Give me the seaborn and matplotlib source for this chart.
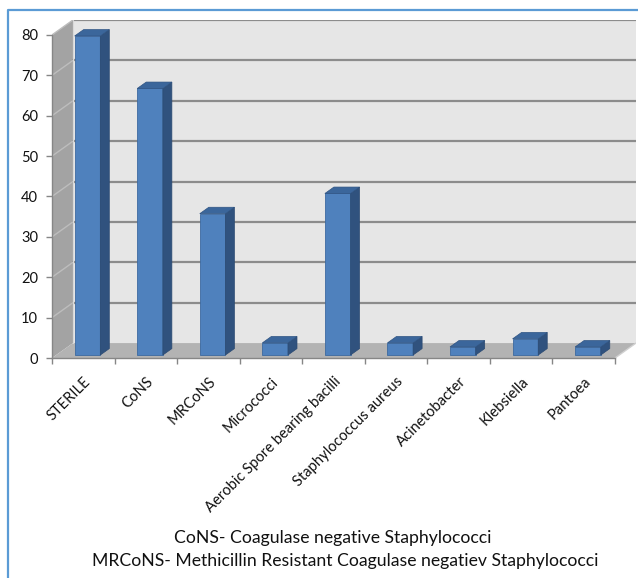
import matplotlib
matplotlib.use("Agg")
import matplotlib.pyplot as plt
from matplotlib.patches import Polygon, Rectangle
from matplotlib.lines import Line2D
import seaborn as sns

# values
organisms = ["STERILE", "CoNS", "MRCoNS", "Micrococci", "Aerobic Spore bearing bacilli",
             "Staphylococcus aureus", "Acinetobacter", "Klebsiella", "Pantoea"]
counts = [79, 66, 35, 3, 40, 3, 2, 4, 2]
y_ticks = [0, 10, 20, 30, 40, 50, 60, 70, 80]
notes = ["CoNS- Coagulase negative Staphylococci",
         "MRCoNS- Methicillin Resistant Coagulase negatiev Staphylococci"]

# fake 3d depth (data units)
DX, DY = 0.335, 3.7
FRONT = 0.2      # where bars start in the depth
BAR_D = 0.43     # bar depth as fraction of full depth

sns.set_theme(style="white")
plt.rcParams["font.family"] = ["Lato", "DejaVu Sans"]

fig = plt.figure(figsize=(6.38, 5.78), dpi=100)
ax = fig.add_axes([52 / 638, 220 / 578, 584 / 638, 338 / 578])

n = len(organisms)
x0, x1 = -0.5, n - 0.5
ytop = y_ticks[-1]

# walls and floor
ax.add_patch(Rectangle((x0 + DX, DY), x1 - x0, ytop, fc="#e6e6e6", ec="none", zorder=0))
ax.add_patch(Polygon([(x0, 0), (x0, ytop), (x0 + DX, ytop + DY), (x0 + DX, DY)],
                     fc="#a3a3a3", ec="none", zorder=0))
ax.add_patch(Polygon([(x0, 0), (x1, 0), (x1 + DX, DY), (x0 + DX, DY)],
                     fc="#b3b3b3", ec="none", zorder=1))
for v in y_ticks[1:]:
    ax.plot([x0 + DX, x1 + DX], [v + DY, v + DY], color="#8c8c8c", lw=1.6, zorder=1)
    ax.plot([x0, x0 + DX], [v, v + DY], color="#bdbdbd", lw=1.0, zorder=1)
ax.plot([x1, x1 + DX], [0, DY], color="#d0d0d0", lw=1.0, zorder=1)
ax.plot([x0 + DX, x0 + DX], [DY, ytop + DY], color="#d9d9d9", lw=0.8, zorder=1)

sns.barplot(x=organisms, y=counts, width=0.41, color="#4f81bd", saturation=1,
            edgecolor="#3d6aa0", linewidth=0.6, ax=ax, zorder=3)

bdx, bdy = BAR_D * DX, BAR_D * DY
for p in ax.patches:
    if p.get_zorder() != 3:
        continue
    p.set_x(p.get_x() + FRONT * DX)
    p.set_y(FRONT * DY)
    xl, yb = p.get_x(), p.get_y()
    w, h = p.get_width(), p.get_height()
    xr, yt = xl + w, yb + h
    side = Polygon([(xr, yb), (xr + bdx, yb + bdy), (xr + bdx, yt + bdy), (xr, yt)],
                   fc="#30527e", ec="#2b4a72", lw=0.5, zorder=3)
    top = Polygon([(xl, yt), (xr, yt), (xr + bdx, yt + bdy), (xl + bdx, yt + bdy)],
                  fc="#3b669b", ec="#2f5483", lw=0.5, zorder=3)
    ax.add_patch(side)
    ax.add_patch(top)

ax.set_xlim(x0, x1 + DX)
ax.set_ylim(0, ytop + DY)
ax.set_xlabel("")
ax.set_ylabel("")

for s in ["top", "right"]:
    ax.spines[s].set_visible(False)
ax.spines["left"].set_bounds(0, ytop)
ax.spines["bottom"].set_bounds(x0, x1)
for s in ["left", "bottom"]:
    ax.spines[s].set_color("#868686")
    ax.spines[s].set_linewidth(1.0)

ax.set_yticks(y_ticks)
ax.set_yticklabels([str(v) for v in y_ticks])
ax.set_xticks(range(n))
ax.set_xticklabels(organisms, rotation=45, ha="right", va="top", rotation_mode="anchor")
ax.set_xticks([i - 0.5 for i in range(n + 1)], minor=True)
ax.tick_params(axis="x", which="major", length=0, pad=12, labelsize=10.6, colors="#111111")
ax.tick_params(axis="x", which="minor", length=4, width=1, color="#868686", direction="out",
               bottom=True)
ax.tick_params(axis="y", length=4, width=1, color="#868686", direction="out", left=True,
               labelsize=10.5, labelcolor="#111111", pad=6)

# blue chart frame (right and bottom edges cropped in the reference)
fig.add_artist(Line2D([8 / 638, 8 / 638, 1.0], [0.0, 1 - 10 / 578, 1 - 10 / 578],
                      color="#5b9bd5", lw=1.6, transform=fig.transFigure))

fig.text(333 / 638, 1 - 538 / 578, notes[0], ha="center", va="center", fontsize=12.7,
         color="#111111")
fig.text(345 / 638, 1 - 561 / 578, notes[1], ha="center", va="center", fontsize=12.7,
         color="#111111")

fig.savefig("out.png", dpi=100)
